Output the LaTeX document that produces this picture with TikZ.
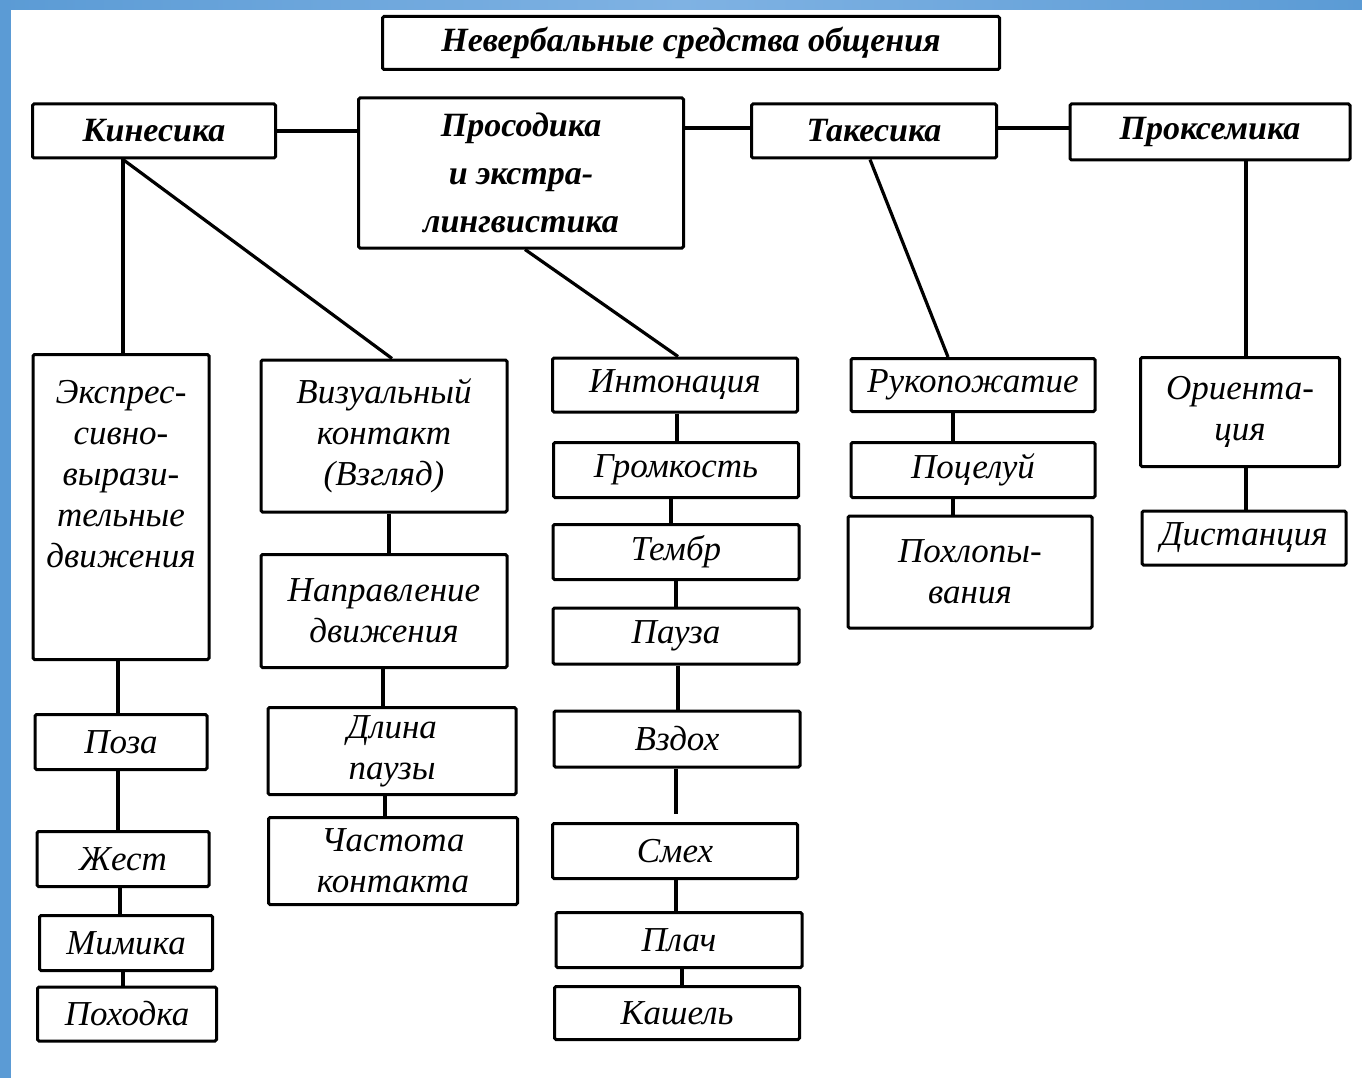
\documentclass[tikz,border=0pt]{standalone}
\usepackage{fontspec}
\setmainfont{Liberation Serif}
\usetikzlibrary{calc,positioning}

\begin{document}
\begin{tikzpicture}[x=1pt,y=-1pt,align=center]
\tikzstyle{box}=[draw=black,line width=3pt,rounded corners=1.5pt,inner sep=0pt,font=\fontsize{35}{41}\selectfont\itshape]
\tikzstyle{head}=[box,font=\fontsize{34}{48}\selectfont\bfseries\itshape]
\tikzstyle{link}=[-,line width=3.2pt]
\definecolor{frameblue}{HTML}{5B9BD5}
\definecolor{lightblue}{HTML}{7FB2E3}

\useasboundingbox (0,0) rectangle (1362,1078);
\fill[white] (0,0) rectangle (1362,1078);
\shade[left color=frameblue,right color=frameblue,middle color=lightblue] (0,0) rectangle (1362,10);
\fill[frameblue] (0,0) rectangle (11,1078);

% top level
\node[head,minimum width=617,minimum height=53] (title) at (691,43) {Невербальные средства общения};
\node[head,minimum width=243,minimum height=54] (kin) at (154,131) {Кинесика};
\node[head,minimum width=325,minimum height=150] (pros) at (521,173) {Просодика\\и экстра-\\лингвистика};
\node[head,minimum width=245,minimum height=54] (tak) at (874,131) {Такесика};
\node[head,minimum width=280,minimum height=56] (prox) at (1210,132) {Проксемика};

% kinesics
\node[box,minimum width=176,minimum height=305] (expr) at (121,507) {Экспрес-\\сивно-\\вырази-\\тельные\\движения\\[26pt]~};
\node[box,minimum width=172,minimum height=55] (poza) at (121,742) {Поза};
\node[box,minimum width=172,minimum height=55] (zhest) at (123,859) {Жест};
\node[box,minimum width=173,minimum height=55] (mimika) at (126,943) {Мимика};
\node[box,minimum width=179,minimum height=54] (pohodka) at (127,1014) {Походка};

\node[box,minimum width=246,minimum height=152] (vis) at (384,436) {Визуальный\\контакт\\(Взгляд)};
\node[box,minimum width=246,minimum height=113] (napr) at (384,611) {Направление\\движения};
\node[box,minimum width=248,minimum height=87] (dlina) at (392,751) {Длина\\паузы};
\node[box,minimum width=249,minimum height=87] (chast) at (393,861) {Частота\\контакта};

% prosody
\node[box,minimum width=245,minimum height=54] (inton) at (675,385) {Интонация};
\node[box,minimum width=245,minimum height=55] (grom) at (676,470) {Громкость};
\node[box,minimum width=246,minimum height=55] (tembr) at (676,552) {Тембр};
\node[box,minimum width=246,minimum height=56] (pauza) at (676,636) {Пауза};
\node[box,minimum width=246,minimum height=56] (vzdoh) at (677,739) {Вздох};
\node[box,minimum width=245,minimum height=55] (smeh) at (675,851) {Смех};
\node[box,minimum width=246,minimum height=55] (plach) at (679,940) {Плач};
\node[box,minimum width=245,minimum height=53] (kashel) at (677,1013) {Кашель};

% takesics
\node[box,minimum width=244,minimum height=53] (ruk) at (973,385) {Рукопожатие};
\node[box,minimum width=244,minimum height=55] (poc) at (973,470) {Поцелуй};
\node[box,minimum width=244,minimum height=112] (pohl) at (970,572) {Похлопы-\\вания};

% proxemics
\node[box,minimum width=199,minimum height=109] (orient) at (1240,412) {Ориента-\\ция};
\node[box,minimum width=204,minimum height=54] (dist) at (1244,538) {Дистанция};

\path
  (kin) edge [link] (kin -| pros.west)
  (pros.east |- 0,128) edge [link] (tak.west |- 0,128)
  (tak.east |- 0,128) edge [link] (prox.west |- 0,128);

\draw[link] (kin.south -| 123,0) -- (expr.north -| 123,0);
\draw[link] (kin.south -| 123,0) -- (vis.north -| 392,0);
\draw[link] (pros.south -| 525,0) -- (inton.north -| 678,0);
\draw[link] (tak.south -| 870,0) -- (ruk.north -| 948,0);
\draw[link] (prox.south -| 1246,0) -- (orient.north -| 1246,0);

\draw[link] (expr.south -| 118,0) -- (poza.north -| 118,0);
\draw[link] (poza.south -| 118,0) -- (zhest.north -| 118,0);
\draw[link] (zhest.south -| 120,0) -- (mimika.north -| 120,0);
\draw[link] (mimika.south -| 123,0) -- (pohodka.north -| 123,0);

\draw[link] (vis.south -| 389,0) -- (napr.north -| 389,0);
\draw[link] (napr.south -| 383,0) -- (dlina.north -| 383,0);
\draw[link] (dlina.south -| 385,0) -- (chast.north -| 385,0);

\draw[link] (inton.south -| 677,0) -- (grom.north -| 677,0);
\draw[link] (grom.south -| 671,0) -- (tembr.north -| 671,0);
\draw[link] (tembr.south -| 676,0) -- (pauza.north -| 676,0);
\draw[link] (pauza.south -| 678,0) -- (vzdoh.north -| 678,0);
\draw[link,shorten >=8pt] (vzdoh.south -| 676,0) -- (smeh.north -| 676,0);
\draw[link] (smeh.south -| 676,0) -- (plach.north -| 676,0);
\draw[link] (plach.south -| 682,0) -- (kashel.north -| 682,0);

\draw[link] (ruk.south -| 953,0) -- (poc.north -| 953,0);
\draw[link] (poc.south -| 953,0) -- (pohl.north -| 953,0);
\draw[link] (orient.south -| 1246,0) -- (dist.north -| 1246,0);
\end{tikzpicture}
\end{document}
